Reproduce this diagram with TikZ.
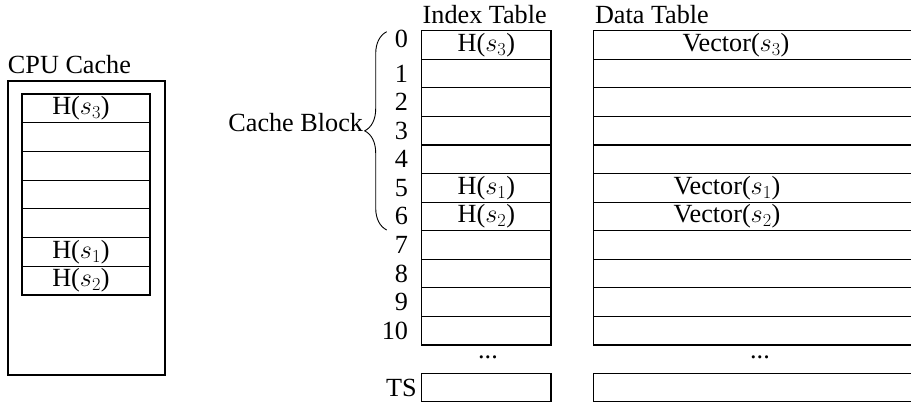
\RequirePackage{fix-cm}
\documentclass[tikz,border=0pt]{standalone}
\usepackage[no-math]{fontspec}
\setmainfont{Liberation Serif}
\usetikzlibrary{decorations.pathreplacing}
\begin{document}
\begin{tikzpicture}[x=1pt,y=-1pt,line width=1.15pt,
  every node/.style={font=\fontsize{26.2}{30}\selectfont, inner sep=0pt, outer sep=0pt},
  cell/.style={draw, minimum height=28.6pt, inner sep=0pt, outer sep=0pt},
  cpucell/.style={cell, minimum width=128pt, minimum height=28.71pt},
  idxcell/.style={cell, minimum width=129.3pt, minimum height=28.57pt},
  datcell/.style={cell, minimum width=333.7pt, minimum height=28.57pt},
  bracestyle/.style={decorate, decoration={brace, amplitude=22pt}, line width=0.9pt}]
\useasboundingbox (0,0) rectangle (911,405);
\clip (0,0) rectangle (911,405);
% CPU cache
\node[anchor=west] (cpulabel) at (8,65) {CPU Cache};
\node[draw, minimum width=157pt, minimum height=294pt] (cpu) at (86.5,228) {};
\foreach \i in {0,...,6} {
  \node[cpucell] (c\i) at (86, 94+28.71*\i+14.36) {};
}
\node (ch3) at (81, 94+14.36) {H($s_3$)};
\node (ch1) at (81, 94+28.71*5+14.36) {H($s_1$)};
\node (ch2) at (81, 94+28.71*6+14.36) {H($s_2$)};
% Tables
\node[anchor=west] (itlabel) at (422.7,15) {Index Table};
\node[anchor=west] (dtlabel) at (595,15) {Data Table};
\foreach \i in {0,...,10} {
  \node[idxcell] (it\i) at (486.3, 30.7+28.57*\i+14.29) {};
  \node[datcell] (dt\i) at (760.2, 30.7+28.57*\i+14.29) {};
}
\foreach \i in {1,...,10} {
  \node[anchor=east] (n\i) at (408, 30.7+28.57*\i+14.29) {\i};
}
\node[anchor=east] (n0) at (408, 39) {0};
\node (ih3) at (it0) {H($s_3$)};
\node (ih1) at (it5) {H($s_1$)};
\node (ih2) at (it6) {H($s_2$)};
\node (dv3) at (736, 30.7+14.29) {Vector($s_3$)};
\node (dv1) at (727, 30.7+28.57*5+14.29) {Vector($s_1$)};
\node (dv2) at (727, 30.7+28.57*6+14.29) {Vector($s_2$)};
\node (idots) at (488,357) {...};
\node (ddots) at (760,357) {...};
\node[idxcell, minimum height=28.4pt] (its) at (486.3,387.5) {};
\node[datcell, minimum height=28.4pt] (dts) at (760.2,387.5) {};
\node[anchor=east] (ts) at (416.7,387.5) {TS};
% Brace
\coordinate (bb) at (386.7,230);
\coordinate (bt) at (386.7,31.7);
\draw[bracestyle] (bb) -- (bt);
\node[anchor=east] (cb) at (363,123) {Cache Block};
\end{tikzpicture}
\end{document}
